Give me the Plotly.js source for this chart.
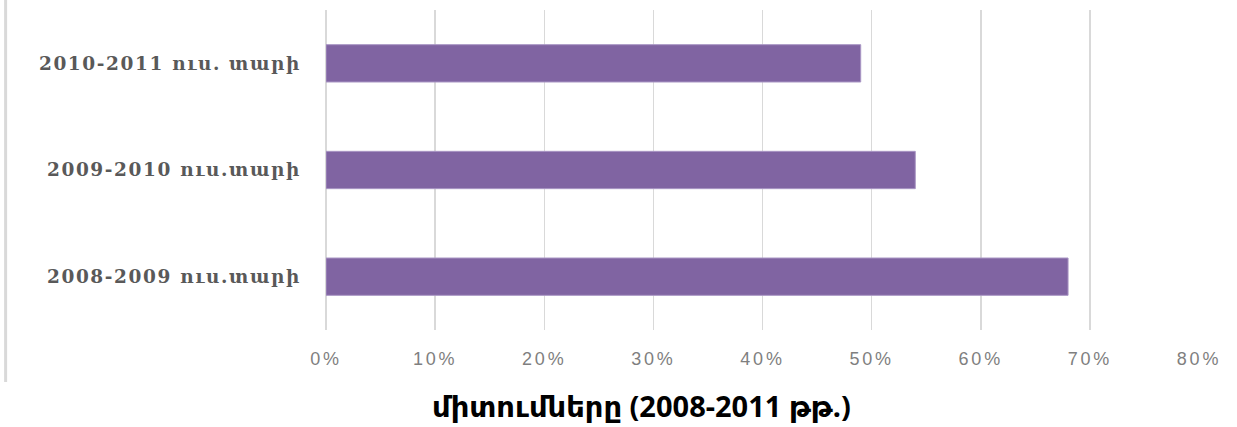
<!DOCTYPE html>
<html>
<head>
<meta charset="utf-8">
<script src="https://cdn.plot.ly/plotly-3.0.1.min.js"></script>
<style>
  html, body { margin: 0; padding: 0; background: #fff; }
  #chart { width: 1237px; height: 427px; }
  .xtick text { letter-spacing: 2.8px; }
  .ytick text { letter-spacing: 1.6px; }
</style>
</head>
<body>
<div id="chart"></div>
<script>
const categories = ['2008-2009 ուս.տարի', '2009-2010 ուս.տարի', '2010-2011 ուս. տարի'];
const values = [0.68, 0.54, 0.49];
const tickValues = [0, 0.1, 0.2, 0.3, 0.4, 0.5, 0.6, 0.7, 0.8];
const tickLabels = ['0%', '10%', '20%', '30%', '40%', '50%', '60%', '70%', '80%'];
const chartTitle = 'միտումները (2008-2011 թթ.)';

const trace = {
  type: 'bar',
  orientation: 'h',
  y: categories,
  x: values,
  marker: { color: '#8064A2', line: { color: '#a996c4', width: 1 } },
  hoverinfo: 'none'
};

const layout = {
  width: 1237,
  height: 427,
  margin: { l: 326, r: 38, t: 10, b: 97 },
  paper_bgcolor: '#ffffff',
  plot_bgcolor: '#ffffff',
  showlegend: false,
  bargap: 0.65,
  xaxis: {
    range: [0, 0.8],
    tickvals: tickValues,
    ticktext: tickLabels,
    showgrid: true,
    gridcolor: '#d9d9d9',
    gridwidth: 1.5,
    zeroline: true,
    zerolinecolor: '#d9d9d9',
    zerolinewidth: 1.5,
    showline: false,
    ticks: '',
    ticklabelstandoff: 16,
    tickfont: { family: 'Liberation Sans, Arial, sans-serif', size: 18, color: '#7f7f7f' },
    fixedrange: true
  },
  yaxis: {
    type: 'category',
    categoryorder: 'array',
    categoryarray: categories,
    showgrid: false,
    zeroline: false,
    showline: false,
    ticks: '',
    ticklabelstandoff: 24,
    tickfont: { family: 'DejaVu Serif, serif', size: 18.5, color: '#595959', weight: 'bold' },
    fixedrange: true
  },
  shapes: [{
    type: 'line', xref: 'paper', yref: 'paper',
    x0: -0.367, x1: -0.367, y0: -0.1625, y1: 1.04,
    line: { color: '#d9d9d9', width: 3 }
  }],
  annotations: [{
    text: chartTitle,
    xref: 'paper', yref: 'paper',
    x: (641 - 326) / 873, y: (330 - 405) / 320,
    xanchor: 'center', yanchor: 'middle',
    showarrow: false,
    font: { family: 'Noto Sans, DejaVu Sans, sans-serif', size: 29, color: '#000000', weight: 'bold' }
  }]
};

Plotly.newPlot('chart', [trace], layout, { staticPlot: true, displayModeBar: false });
</script>
</body>
</html>
